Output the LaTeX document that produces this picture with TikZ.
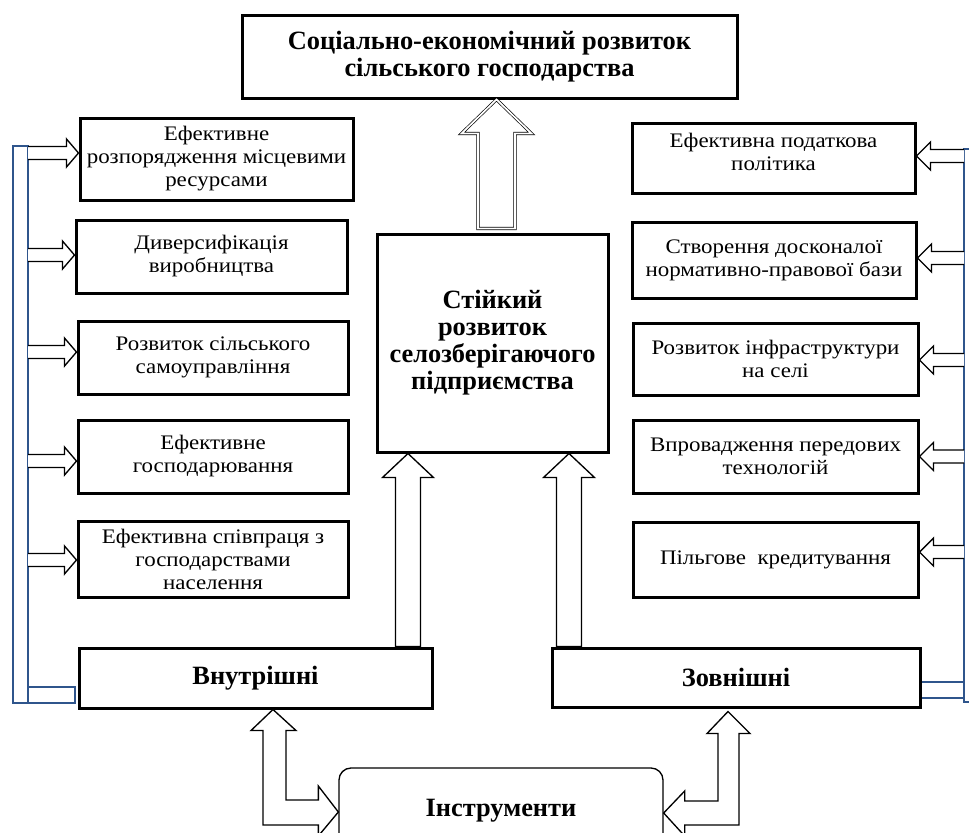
\documentclass[tikz,border=0pt]{standalone}
\usepackage{fontspec}
\setmainfont{Liberation Serif}
\newfontfamily\regfont{Liberation Serif}[FakeStretch=1.11]
\usetikzlibrary{calc}
\definecolor{barblue}{RGB}{47,85,140}
\tikzset{
 box/.style={draw, line width=2.25pt, inner sep=0pt, align=center, fill=white, font=\regfont\fontsize{15.5}{17.25}\selectfont},
 boldbox/.style={box, font=\rmfamily\fontsize{19.8}{20.25}\selectfont\bfseries},
 harrow/.style={draw, line width=1pt, fill=white, line join=miter},
 dblarrow/.style={draw, line width=0.5pt, double=white, double distance=1.3pt, fill=white},
 bluebar/.style={draw=barblue, line width=1.2pt},
}
\newcommand\sidearrow[3]{% tip, tail reference, signed head length
 \draw[harrow] ($(#1 -| #2)+(0,-6.5)$) -- ($(#1)+(#3,-6.5)$) -- ($(#1)+(#3,-14)$) -- (#1) -- ($(#1)+(#3,14)$) -- ($(#1)+(#3,6.5)$) -- ($(#1 -| #2)+(0,6.5)$);}
\newcommand\uparr[3]{% x reference, target node, source node
 \draw[harrow] ($(#1 |- #3.north)+(-12.5,0)$) -- ($(#1 |- #2.south)+(-12.5,24)$) -- ($(#1 |- #2.south)+(-25.5,24)$) -- (#1 |- #2.south) -- ($(#1 |- #2.south)+(25.5,24)$) -- ($(#1 |- #2.south)+(12.5,24)$) -- ($(#1 |- #3.north)+(12.5,0)$) -- cycle;}
\begin{document}
\begin{tikzpicture}[x=0.75pt,y=-0.75pt]
\useasboundingbox (0,0) rectangle (969,832);
\clip (0,0) rectangle (969,832);
% blue bars
\draw[bluebar] (13,146) rectangle (28,703);
\draw[bluebar] (28,687) rectangle (75,703);
\draw[bluebar] (964,149) rectangle (979,702);
\draw[bluebar] (921,682) rectangle (964,698);
\coordinate (lb) at (28,0);
\coordinate (rb) at (964,0);
% boxes
\node[boldbox, minimum width=371.25pt, minimum height=62.25pt] (top) at (489.5,56.5) {Соціально-економічний розвиток\\сільського господарства};
\node[boldbox, minimum width=173.25pt, minimum height=163.5pt] (C) at (492.5,343) {Стійкий\\розвиток\\селозберігаючого\\підприємства};
\node[box, minimum width=204.75pt, minimum height=61.5pt] (L1) at (216.5,159) {Ефективне\\розпорядження місцевими\\ресурсами};
\node[box, minimum width=203.25pt, minimum height=54.75pt] (L2) at (211.5,256.5) {Диверсифікація\\виробництва};
\node[box, minimum width=202.5pt, minimum height=54.75pt] (L3) at (213,357.5) {Розвиток сільського\\самоуправління};
\node[box, minimum width=202.5pt, minimum height=54.75pt] (L4) at (213,456.5) {Ефективне\\господарювання};
\node[box, minimum width=202.5pt, minimum height=57pt] (L5) at (213,559) {Ефективна співпраця з\\господарствами\\населення};
\node[box, minimum width=212.25pt, minimum height=52.5pt] (R1) at (773.5,158) {Ефективна податкова\\політика\\[-8pt]\mbox{}};
\node[box, minimum width=213pt, minimum height=57pt] (R2) at (774,260) {Створення досконалої\\нормативно-правової бази};
\node[box, minimum width=213.75pt, minimum height=54pt] (R3) at (775.5,359) {Розвиток інфраструктури\\на селі};
\node[box, minimum width=213.75pt, minimum height=54.75pt] (R4) at (775.5,456.5) {Впровадження передових\\технологій};
\node[box, minimum width=213.75pt, minimum height=56.25pt] (R5) at (775.5,559.5) {Пільгове\ \ кредитування};
\node[boldbox, minimum width=264.75pt, minimum height=45pt] (vn) at (255.5,678) {Внутрішні};
\node[boldbox, minimum width=276pt, minimum height=44.25pt] (zv) at (736,677.5) {Зовнішні};
\node[boldbox, rounded corners=9pt, line width=1pt, minimum width=243pt, minimum height=64.5pt] (ins) at (501,811) {Інструменти};
% side arrows
\coordinate (t1) at ([yshift=4.5pt]L1.west);
\coordinate (t2) at ([yshift=1.1pt]L2.west);
\coordinate (t3) at ([yshift=4.1pt]L3.west);
\coordinate (t4) at ([yshift=-3.4pt]L4.west);
\coordinate (t5) at ([yshift=-0.75pt]L5.west);
\coordinate (s1) at ([yshift=1.5pt]R1.east);
\coordinate (s2) at ([yshift=1.5pt]R2.east);
\coordinate (s3) at ([yshift=-0.75pt]R3.east);
\coordinate (s4) at (R4.east);
\coordinate (s5) at ([yshift=5.6pt]R5.east);
\foreach \t in {t1,t2,t3,t4,t5} {\sidearrow{\t}{lb}{-12}}
\foreach \s in {s1,s2,s3,s4,s5} {\sidearrow{\s}{rb}{14}}
% up arrows into the centre box
\coordinate (ua) at (408,0);
\coordinate (ub) at (569,0);
\uparr{ua}{C}{vn}
\uparr{ub}{C}{zv}
% double-outlined arrow to the top box
\coordinate (uc) at (496.5,0);
\draw[dblarrow] ($(uc |- C.north)+(-18.5,-4)$) -- ($(uc |- top.south)+(-18.5,34)$) -- ($(uc |- top.south)+(-35,34)$) -- (uc |- top.south) -- ($(uc |- top.south)+(35,34)$) -- ($(uc |- top.south)+(18.5,34)$) -- ($(uc |- C.north)+(18.5,-4)$) -- cycle;
% elbow arrows to the instruments box
\coordinate (xa) at (273,0);
\coordinate (xb) at (728,0);
\coordinate (tA) at (xa |- vn.south);
\coordinate (tB) at ([yshift=-0.75pt]ins.west);
\coordinate (tC) at ([yshift=-2.25pt]xb |- zv.south);
\coordinate (tD) at ([yshift=-1.5pt]ins.east);
\draw[harrow] (tA) -- ++(23,21) -- ++(-10,0) -- ($(tA |- tB)+(13,-12)$) -- ($(tB)+(-20,-12)$) -- ($(tB)+(-20,-26)$) -- (tB) -- ($(tB)+(-20,24)$) -- ($(tB)+(-20,13)$) -- ($(tA |- tB)+(-10,13)$) -- ($(tA)+(-10,21)$) -- ($(tA)+(-22,21)$) -- cycle;
\draw[harrow] (tC) -- ++(22,22) -- ++(-11,0) -- ($(tC |- tD)+(11,12)$) -- ($(tD)+(21,12)$) -- ($(tD)+(21,23)$) -- (tD) -- ($(tD)+(21,-22)$) -- ($(tD)+(21,-12)$) -- ($(tC |- tD)+(-10,-12)$) -- ($(tC)+(-10,22)$) -- ($(tC)+(-21,22)$) -- cycle;
\end{tikzpicture}
\end{document}
